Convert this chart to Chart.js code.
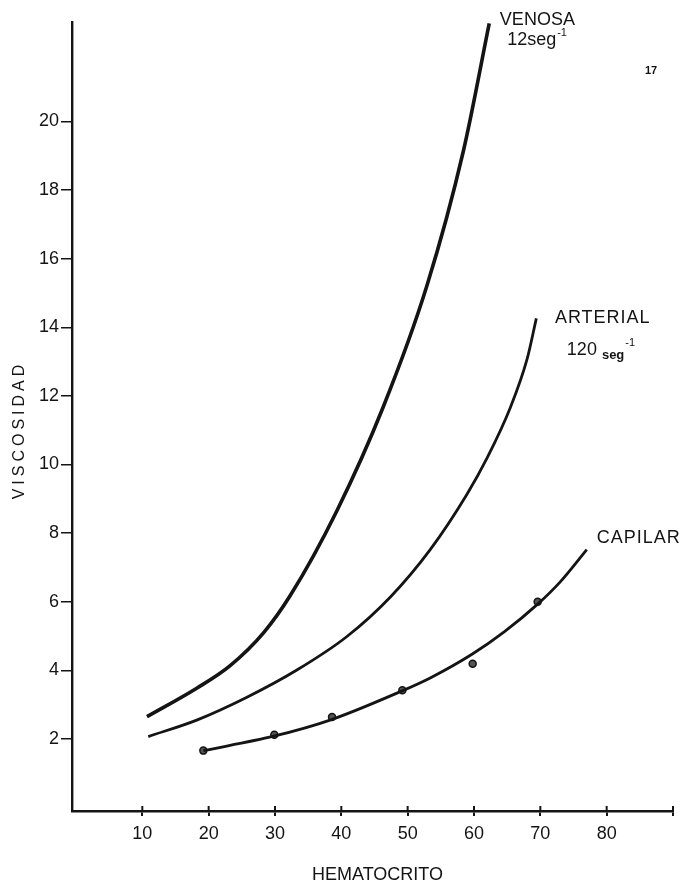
<!DOCTYPE html>
<html>
<head>
<meta charset="utf-8">
<script src="https://cdn.jsdelivr.net/npm/chart.js@4.4.1/dist/chart.umd.min.js"></script>
<style>
  html, body { margin: 0; padding: 0; background: #fff; }
  #wrap { position: relative; width: 684px; height: 882px; }
  #page { position: absolute; left: 645px; top: 64px; font: bold 11px "Liberation Sans", sans-serif; color: #111; }
</style>
</head>
<body>
<div id="wrap">
  <canvas id="chart" width="684" height="882"></canvas>
  <div id="page">17</div>
</div>
<script>
// values (hematocrit %, viscosity)
const venosaX = [10.7, 18.2, 23.2, 28.3, 32.3, 39.3, 46.3, 52.9, 58.4, 62.3];
const venosaY = [2.65, 3.48, 4.13, 5.10, 6.18, 8.64, 11.67, 15.21, 19.14, 22.86];

const arterialX = [10.9, 18.2, 25.7, 33.3, 40.8, 47.4, 53.4, 58.9, 62.0, 65.5, 68.0, 69.4];
const arterialY = [2.07, 2.55, 3.21, 4.01, 4.98, 6.14, 7.52, 9.12, 10.20, 11.67, 13.07, 14.26];

const capilarX = [19.2, 29.8, 38.3, 48.9, 53.4, 59.7, 64.6, 69.6, 73.0, 77.0];
const capilarY = [1.66, 2.08, 2.55, 3.38, 3.78, 4.47, 5.13, 5.93, 6.58, 7.52];

// measured points on the capillary curve
const obsX = [19.2, 29.9, 38.6, 49.2, 59.8, 69.6];
const obsY = [1.66, 2.12, 2.64, 3.42, 4.19, 6.0];

const xTicks = [10, 20, 30, 40, 50, 60, 70, 80, 90];
const yTicks = [2, 4, 6, 8, 10, 12, 14, 16, 18, 20];

function pts(xs, ys) {
  return xs.map((x, i) => ({ x: x, y: ys[i] }));
}

const INK = "#141414";
const FAMILY = "'Liberation Sans', Arial, sans-serif";
const tickFont = { family: FAMILY, size: 18 };

// curve labels, placed in data units next to the curve ends
const curveLabels = [
  { x: 63.9, y: 22.82, text: "VENOSA" },
  { x: 65.0, y: 22.23, text: "12seg", sup: "-1" },
  { x: 72.2, y: 14.13, text: "ARTERIAL", spacing: 1 },
  { x: 74.0, y: 13.2, text: "120 ", small: "seg", sup: "-1" },
  { x: 78.5, y: 7.71, text: "CAPILAR", spacing: 1 }
];

const labelPlugin = {
  id: "curveLabels",
  afterDraw(chart) {
    const { ctx, scales, chartArea } = chart;
    ctx.save();
    ctx.fillStyle = INK;
    ctx.strokeStyle = INK;
    ctx.textBaseline = "alphabetic";

    // tick marks crossing above the x axis
    ctx.lineWidth = 2;
    xTicks.forEach((v) => {
      const px = scales.x.getPixelForValue(v);
      ctx.beginPath();
      ctx.moveTo(px, chartArea.bottom - 5);
      ctx.lineTo(px, chartArea.bottom);
      ctx.stroke();
    });

    curveLabels.forEach((l) => {
      let px = scales.x.getPixelForValue(l.x);
      const py = scales.y.getPixelForValue(l.y);
      ctx.font = "18px " + FAMILY;
      ctx.letterSpacing = (l.spacing || 0) + "px";
      ctx.fillText(l.text, px, py);
      px += ctx.measureText(l.text).width;
      ctx.letterSpacing = "0px";
      if (l.small) {
        ctx.font = "bold 13px " + FAMILY;
        ctx.fillText(l.small, px, py + 4);
        px += ctx.measureText(l.small).width;
      }
      if (l.sup) {
        ctx.font = "11px " + FAMILY;
        ctx.fillText(l.sup, px + 1, py - 9);
      }
    });

    // axis titles
    ctx.textAlign = "center";
    ctx.font = "18px " + FAMILY;
    ctx.fillText("HEMATOCRITO", (chartArea.left + chartArea.right) / 2 + 5, 880);

    ctx.translate(24, 432);
    ctx.rotate(-Math.PI / 2);
    ctx.font = "16px " + FAMILY;
    ctx.letterSpacing = "4px";
    ctx.fillText("VISCOSIDAD", 2, 0);
    ctx.restore();
  }
};

const ctx = document.getElementById("chart").getContext("2d");
new Chart(ctx, {
  type: "scatter",
  data: {
    datasets: [
      {
        label: "Venosa",
        data: pts(venosaX, venosaY),
        showLine: true,
        borderColor: INK,
        borderWidth: 3.6,
        pointRadius: 0,
        cubicInterpolationMode: "monotone",
        clip: false
      },
      {
        label: "Arterial",
        data: pts(arterialX, arterialY),
        showLine: true,
        borderColor: INK,
        borderWidth: 2.8,
        pointRadius: 0,
        cubicInterpolationMode: "monotone",
        clip: false
      },
      {
        label: "Capilar",
        data: pts(capilarX, capilarY),
        showLine: true,
        borderColor: INK,
        borderWidth: 2.8,
        pointRadius: 0,
        cubicInterpolationMode: "monotone",
        clip: false
      },
      {
        label: "Capilar (medido)",
        data: pts(obsX, obsY),
        showLine: false,
        pointRadius: 3.5,
        pointBackgroundColor: "#555",
        pointBorderColor: INK,
        pointBorderWidth: 1.5,
        clip: false
      }
    ]
  },
  options: {
    responsive: false,
    animation: false,
    layout: { padding: { top: 22, right: 11, left: 0, bottom: 0 } },
    plugins: {
      legend: { display: false },
      tooltip: { enabled: false }
    },
    scales: {
      x: {
        type: "linear",
        min: -0.6,
        max: 90,
        afterBuildTicks: (scale) => {
          scale.ticks = xTicks.map((v) => ({ value: v }));
        },
        afterFit: (scale) => {
          scale.height = 71;
        },
        ticks: {
          color: INK,
          font: tickFont,
          padding: 7,
          maxRotation: 0,
          autoSkip: false,
          callback: (v) => (v === 90 ? "" : v)
        },
        grid: {
          drawOnChartArea: false,
          drawTicks: true,
          tickLength: 5,
          color: INK,
          lineWidth: 2
        },
        border: { color: INK, width: 2.4 }
      },
      y: {
        type: "linear",
        min: -0.1,
        max: 22.9,
        afterBuildTicks: (scale) => {
          scale.ticks = yTicks.map((v) => ({ value: v }));
        },
        afterFit: (scale) => {
          scale.width = 72;
        },
        ticks: {
          color: INK,
          font: tickFont,
          padding: 2
        },
        grid: {
          drawOnChartArea: false,
          drawTicks: true,
          tickLength: 11,
          color: INK,
          lineWidth: 1.5
        },
        border: { color: INK, width: 2.4 }
      }
    }
  },
  plugins: [labelPlugin]
});
</script>
</body>
</html>
